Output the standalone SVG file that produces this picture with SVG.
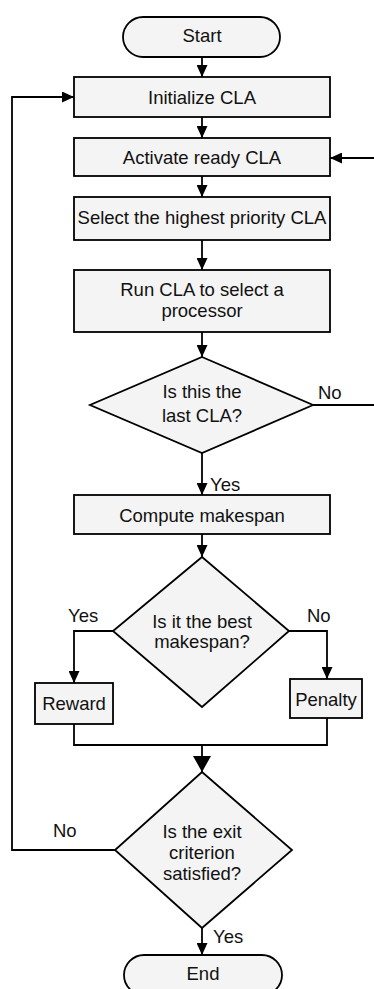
<svg xmlns="http://www.w3.org/2000/svg" width="374" height="989" viewBox="0 0 374 989">
<style>
.n{fill:#f4f4f4;stroke:#000;stroke-width:1.8}
.t{font-family:"Liberation Sans",Arial,sans-serif;font-size:18.5px;fill:#111;text-anchor:middle}
.l{font-family:"Liberation Sans",Arial,sans-serif;font-size:18.5px;fill:#111}
.c{fill:none;stroke:#000;stroke-width:1.8}
</style>
<defs>
<marker id="a" markerUnits="userSpaceOnUse" markerWidth="12" markerHeight="11" refX="12" refY="5.5" orient="auto"><path d="M0,0L12,5.5L0,11z" fill="#000"/></marker>
<marker id="b" markerUnits="userSpaceOnUse" markerWidth="16" markerHeight="18" refX="16" refY="9" orient="auto"><path d="M0,0L16,9L0,18z" fill="#000"/></marker>
</defs>
<g id="connectors">
<path class="c" d="M202,57V77" marker-end="url(#a)"/>
<path class="c" d="M202,117V138" marker-end="url(#a)"/>
<path class="c" d="M202,176V197" marker-end="url(#a)"/>
<path class="c" d="M202,240V270" marker-end="url(#a)"/>
<path class="c" d="M202,332V357" marker-end="url(#a)"/>
<path class="c" d="M313,405H376V158H330" marker-end="url(#a)"/>
<path class="c" d="M202,453V495" marker-end="url(#a)"/>
<path class="c" d="M202,534V557" marker-end="url(#a)"/>
<path class="c" d="M113,631H74V683" marker-end="url(#a)"/>
<path class="c" d="M289,631H327V679" marker-end="url(#a)"/>
<path class="c" d="M74,724V745H327V718"/>
<path class="c" d="M202,745V772" marker-end="url(#b)"/>
<path class="c" d="M115,850H12V97H74" marker-end="url(#a)"/>
<path class="c" d="M202,928V955" marker-end="url(#a)"/>
<text class="l" x="318" y="399">No</text>
<text class="l" x="210" y="491">Yes</text>
<text class="l" x="68" y="622">Yes</text>
<text class="l" x="307" y="622">No</text>
<text class="l" x="53" y="837">No</text>
<text class="l" x="213" y="943">Yes</text>
</g>
<g id="start"><rect class="n" x="123" y="17" width="157" height="40" rx="20"/><text class="t" x="202" y="42">Start</text></g>
<g id="init"><rect class="n" x="74" y="77" width="256" height="40"/><text class="t" x="202" y="104">Initialize CLA</text></g>
<g id="activate"><rect class="n" x="74" y="138" width="256" height="38"/><text class="t" x="202" y="164">Activate ready CLA</text></g>
<g id="select"><rect class="n" x="74" y="197" width="256" height="43"/><text class="t" x="202" y="224">Select the highest priority CLA</text></g>
<g id="run"><rect class="n" x="74" y="270" width="256" height="62"/><text class="t" x="202" y="296">Run CLA to select a</text><text class="t" x="202" y="317">processor</text></g>
<g id="last"><polygon class="n" points="202,357 313,405 202,453 90,405"/><text class="t" x="202" y="398">Is this the</text><text class="t" x="202" y="422">last CLA?</text></g>
<g id="compute"><rect class="n" x="74" y="495" width="256" height="39"/><text class="t" x="202" y="522">Compute makespan</text></g>
<g id="best"><polygon class="n" points="202,557 289,631 202,707 113,631"/><text class="t" x="202" y="628">Is it the best</text><text class="t" x="202" y="648">makespan?</text></g>
<g id="reward"><rect class="n" x="35" y="683" width="78" height="41"/><text class="t" x="74" y="710">Reward</text></g>
<g id="penalty"><rect class="n" x="290" y="679" width="72" height="39"/><text class="t" x="326" y="706">Penalty</text></g>
<g id="exit"><polygon class="n" points="202,772 292,850 202,928 115,850"/><text class="t" x="202" y="838">Is the exit</text><text class="t" x="202" y="859">criterion</text><text class="t" x="202" y="880">satisfied?</text></g>
<g id="end"><rect class="n" x="124" y="955" width="158" height="40" rx="20"/><text class="t" x="203" y="980">End</text></g>
</svg>
